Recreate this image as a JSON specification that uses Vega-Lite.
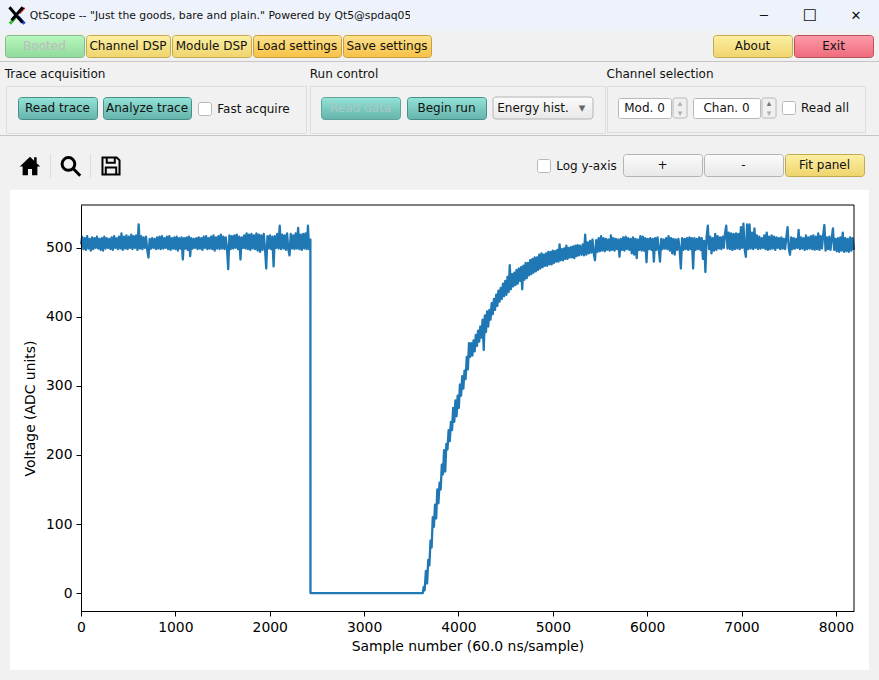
{
"$schema":"https://vega.github.io/schema/vega-lite/v6.json",
"padding":0,
"background":"#f1f1f1",
"datasets":{
"blank":[{"label":""}],
"trace":[
{"n":0,"v":505},{"n":13,"v":516},{"n":26,"v":498},{"n":39,"v":514},{"n":52,"v":497},{"n":65,"v":517},{"n":78,"v":499},{"n":91,"v":513},{"n":104,"v":496},{"n":117,"v":515},{"n":130,"v":498},{"n":143,"v":514},{"n":156,"v":500},{"n":169,"v":516},{"n":182,"v":499},{"n":195,"v":513},{"n":208,"v":497},{"n":221,"v":514},{"n":234,"v":496},{"n":247,"v":516},{"n":260,"v":499},{"n":273,"v":514},{"n":286,"v":500},{"n":299,"v":513},{"n":312,"v":498},{"n":325,"v":515},{"n":338,"v":497},{"n":351,"v":517},{"n":364,"v":500},{"n":377,"v":514},{"n":390,"v":498},{"n":403,"v":516},{"n":416,"v":499},{"n":429,"v":521},{"n":442,"v":497},{"n":455,"v":516},{"n":468,"v":499},{"n":481,"v":518},{"n":494,"v":498},{"n":507,"v":516},{"n":520,"v":500},{"n":533,"v":519},{"n":546,"v":498},{"n":559,"v":517},{"n":572,"v":500},{"n":585,"v":518},{"n":598,"v":497},{"n":611,"v":534},{"n":624,"v":499},{"n":637,"v":517},{"n":650,"v":498},{"n":663,"v":515},{"n":676,"v":500},{"n":689,"v":516},{"n":702,"v":497},{"n":715,"v":486},{"n":728,"v":513},{"n":741,"v":499},{"n":754,"v":514},{"n":767,"v":500},{"n":780,"v":513},{"n":793,"v":498},{"n":806,"v":515},{"n":819,"v":499},{"n":832,"v":516},{"n":845,"v":498},{"n":858,"v":517},{"n":871,"v":499},{"n":884,"v":514},{"n":897,"v":500},{"n":910,"v":516},{"n":923,"v":498},{"n":936,"v":517},{"n":949,"v":497},{"n":962,"v":514},{"n":975,"v":499},{"n":988,"v":515},{"n":1001,"v":498},{"n":1014,"v":516},{"n":1027,"v":496},{"n":1040,"v":514},{"n":1053,"v":499},{"n":1066,"v":515},{"n":1079,"v":483},{"n":1092,"v":514},{"n":1105,"v":499},{"n":1118,"v":515},{"n":1131,"v":497},{"n":1144,"v":516},{"n":1157,"v":488},{"n":1170,"v":514},{"n":1183,"v":499},{"n":1196,"v":513},{"n":1209,"v":500},{"n":1222,"v":514},{"n":1235,"v":498},{"n":1248,"v":515},{"n":1261,"v":499},{"n":1274,"v":514},{"n":1287,"v":497},{"n":1300,"v":516},{"n":1313,"v":500},{"n":1326,"v":517},{"n":1339,"v":498},{"n":1352,"v":514},{"n":1365,"v":499},{"n":1378,"v":516},{"n":1391,"v":498},{"n":1404,"v":518},{"n":1417,"v":496},{"n":1430,"v":515},{"n":1443,"v":499},{"n":1456,"v":517},{"n":1469,"v":498},{"n":1482,"v":519},{"n":1495,"v":499},{"n":1508,"v":516},{"n":1521,"v":498},{"n":1534,"v":515},{"n":1547,"v":500},{"n":1560,"v":469},{"n":1573,"v":518},{"n":1586,"v":498},{"n":1599,"v":517},{"n":1612,"v":499},{"n":1625,"v":518},{"n":1638,"v":500},{"n":1651,"v":519},{"n":1664,"v":498},{"n":1677,"v":516},{"n":1690,"v":483},{"n":1703,"v":515},{"n":1716,"v":500},{"n":1729,"v":518},{"n":1742,"v":499},{"n":1755,"v":521},{"n":1768,"v":498},{"n":1781,"v":519},{"n":1794,"v":497},{"n":1807,"v":520},{"n":1820,"v":499},{"n":1833,"v":518},{"n":1846,"v":498},{"n":1859,"v":521},{"n":1872,"v":496},{"n":1885,"v":519},{"n":1898,"v":494},{"n":1911,"v":518},{"n":1924,"v":497},{"n":1937,"v":520},{"n":1950,"v":499},{"n":1963,"v":470},{"n":1976,"v":517},{"n":1989,"v":499},{"n":2002,"v":518},{"n":2015,"v":498},{"n":2028,"v":516},{"n":2041,"v":473},{"n":2054,"v":517},{"n":2067,"v":500},{"n":2080,"v":520},{"n":2093,"v":499},{"n":2106,"v":532},{"n":2119,"v":498},{"n":2132,"v":519},{"n":2145,"v":499},{"n":2158,"v":518},{"n":2171,"v":497},{"n":2184,"v":521},{"n":2197,"v":498},{"n":2210,"v":489},{"n":2223,"v":520},{"n":2236,"v":499},{"n":2249,"v":518},{"n":2262,"v":498},{"n":2275,"v":521},{"n":2288,"v":499},{"n":2301,"v":529},{"n":2314,"v":498},{"n":2327,"v":519},{"n":2340,"v":497},{"n":2353,"v":520},{"n":2366,"v":499},{"n":2379,"v":521},{"n":2392,"v":498},{"n":2405,"v":532},{"n":2418,"v":498},{"n":2431,"v":512},{"n":2432,"v":0},
{"n":3622,"v":0},{"n":3632,"v":9},{"n":3642,"v":4},{"n":3655,"v":32},{"n":3668,"v":14},{"n":3680,"v":48},{"n":3692,"v":40},{"n":3704,"v":76},{"n":3716,"v":66},{"n":3728,"v":110},{"n":3740,"v":96},{"n":3752,"v":128},{"n":3764,"v":108},{"n":3776,"v":150},{"n":3788,"v":130},{"n":3800,"v":160},{"n":3812,"v":150},{"n":3824,"v":186},{"n":3836,"v":172},{"n":3848,"v":207},{"n":3860,"v":176},{"n":3872,"v":216},{"n":3884,"v":208},{"n":3896,"v":236},{"n":3908,"v":220},{"n":3920,"v":248},{"n":3932,"v":236},{"n":3944,"v":268},{"n":3956,"v":248},{"n":3968,"v":279},{"n":3980,"v":256},{"n":3992,"v":286},{"n":4004,"v":268},{"n":4016,"v":302},{"n":4028,"v":286},{"n":4040,"v":314},{"n":4052,"v":296},{"n":4064,"v":322},{"n":4076,"v":310},{"n":4088,"v":342},{"n":4100,"v":324},{"n":4112,"v":362},{"n":4124,"v":342},{"n":4136,"v":362},{"n":4148,"v":344},{"n":4160,"v":366},{"n":4172,"v":350},{"n":4184,"v":374},{"n":4196,"v":358},{"n":4208,"v":380},{"n":4220,"v":364},{"n":4232,"v":386},{"n":4244,"v":370},{"n":4256,"v":396},{"n":4268,"v":352},{"n":4280,"v":402},{"n":4292,"v":378},{"n":4304,"v":408},{"n":4316,"v":386},{"n":4328,"v":410},{"n":4340,"v":396},{"n":4352,"v":420},{"n":4364,"v":404},{"n":4376,"v":426},{"n":4388,"v":410},{"n":4400,"v":432},{"n":4412,"v":416},{"n":4424,"v":438},{"n":4436,"v":422},{"n":4448,"v":442},{"n":4460,"v":426},{"n":4472,"v":448},{"n":4484,"v":430},{"n":4496,"v":452},{"n":4508,"v":432},{"n":4520,"v":458},{"n":4532,"v":436},{"n":4544,"v":475},{"n":4556,"v":440},{"n":4568,"v":462},{"n":4580,"v":444},{"n":4592,"v":464},{"n":4604,"v":446},{"n":4616,"v":468},{"n":4628,"v":448},{"n":4640,"v":470},{"n":4652,"v":452},{"n":4664,"v":472},{"n":4676,"v":440},{"n":4688,"v":474},{"n":4700,"v":454},{"n":4712,"v":478},{"n":4724,"v":456},{"n":4736,"v":478},{"n":4748,"v":460},{"n":4760,"v":482},{"n":4772,"v":462},{"n":4784,"v":484},{"n":4796,"v":464},{"n":4808,"v":486},{"n":4820,"v":466},{"n":4832,"v":486},{"n":4844,"v":468},{"n":4856,"v":490},{"n":4868,"v":470},{"n":4880,"v":492},{"n":4892,"v":472},{"n":4904,"v":490},{"n":4916,"v":474},{"n":4928,"v":492},{"n":4940,"v":474},{"n":4952,"v":494},{"n":4964,"v":476},{"n":4976,"v":494},{"n":4988,"v":476},{"n":5000,"v":496},{"n":5012,"v":478},{"n":5024,"v":495},{"n":5036,"v":480},{"n":5048,"v":497},{"n":5060,"v":480},{"n":5072,"v":505},{"n":5084,"v":482},{"n":5096,"v":498},{"n":5108,"v":482},{"n":5120,"v":499},{"n":5132,"v":484},{"n":5144,"v":503},{"n":5156,"v":484},{"n":5168,"v":500},{"n":5180,"v":486},{"n":5192,"v":501},{"n":5204,"v":486},{"n":5216,"v":502},{"n":5228,"v":485},{"n":5240,"v":503},{"n":5252,"v":488},{"n":5264,"v":504},{"n":5276,"v":489},{"n":5288,"v":503},{"n":5304,"v":490},{"n":5317,"v":505},{"n":5330,"v":489},{"n":5343,"v":519},{"n":5356,"v":490},{"n":5369,"v":508},{"n":5382,"v":492},{"n":5395,"v":510},{"n":5408,"v":493},{"n":5421,"v":512},{"n":5434,"v":492},{"n":5447,"v":482},{"n":5460,"v":511},{"n":5473,"v":494},{"n":5486,"v":514},{"n":5499,"v":495},{"n":5512,"v":517},{"n":5525,"v":496},{"n":5538,"v":514},{"n":5551,"v":495},{"n":5564,"v":513},{"n":5577,"v":497},{"n":5590,"v":512},{"n":5603,"v":496},{"n":5616,"v":518},{"n":5629,"v":497},{"n":5642,"v":514},{"n":5655,"v":496},{"n":5668,"v":513},{"n":5681,"v":498},{"n":5694,"v":512},{"n":5707,"v":487},{"n":5720,"v":513},{"n":5733,"v":497},{"n":5746,"v":515},{"n":5759,"v":496},{"n":5772,"v":516},{"n":5785,"v":498},{"n":5798,"v":514},{"n":5811,"v":497},{"n":5824,"v":513},{"n":5837,"v":492},{"n":5850,"v":515},{"n":5863,"v":490},{"n":5876,"v":513},{"n":5889,"v":485},{"n":5902,"v":512},{"n":5915,"v":497},{"n":5928,"v":517},{"n":5941,"v":496},{"n":5954,"v":516},{"n":5967,"v":496},{"n":5980,"v":514},{"n":5993,"v":479},{"n":6006,"v":513},{"n":6019,"v":498},{"n":6032,"v":514},{"n":6045,"v":497},{"n":6058,"v":513},{"n":6071,"v":480},{"n":6084,"v":514},{"n":6097,"v":497},{"n":6110,"v":515},{"n":6123,"v":498},{"n":6136,"v":480},{"n":6149,"v":513},{"n":6162,"v":498},{"n":6175,"v":512},{"n":6188,"v":499},{"n":6201,"v":514},{"n":6214,"v":498},{"n":6227,"v":517},{"n":6240,"v":496},{"n":6253,"v":514},{"n":6266,"v":492},{"n":6279,"v":513},{"n":6292,"v":490},{"n":6305,"v":512},{"n":6318,"v":497},{"n":6331,"v":513},{"n":6344,"v":498},{"n":6357,"v":470},{"n":6370,"v":514},{"n":6383,"v":497},{"n":6396,"v":513},{"n":6409,"v":498},{"n":6422,"v":514},{"n":6435,"v":497},{"n":6448,"v":515},{"n":6461,"v":498},{"n":6474,"v":514},{"n":6487,"v":470},{"n":6500,"v":514},{"n":6513,"v":497},{"n":6526,"v":513},{"n":6539,"v":498},{"n":6552,"v":515},{"n":6565,"v":497},{"n":6578,"v":514},{"n":6591,"v":484},{"n":6604,"v":510},{"n":6617,"v":465},{"n":6630,"v":516},{"n":6643,"v":532},{"n":6656,"v":498},{"n":6669,"v":516},{"n":6682,"v":492},{"n":6695,"v":514},{"n":6708,"v":496},{"n":6721,"v":520},{"n":6734,"v":497},{"n":6747,"v":517},{"n":6760,"v":499},{"n":6773,"v":515},{"n":6786,"v":498},{"n":6799,"v":516},{"n":6812,"v":500},{"n":6825,"v":521},{"n":6838,"v":532},{"n":6851,"v":499},{"n":6864,"v":522},{"n":6877,"v":498},{"n":6890,"v":521},{"n":6903,"v":497},{"n":6916,"v":520},{"n":6929,"v":498},{"n":6942,"v":521},{"n":6955,"v":499},{"n":6968,"v":520},{"n":6981,"v":498},{"n":6994,"v":530},{"n":7007,"v":500},{"n":7020,"v":535},{"n":7033,"v":498},{"n":7046,"v":487},{"n":7059,"v":534},{"n":7072,"v":498},{"n":7085,"v":534},{"n":7098,"v":499},{"n":7111,"v":522},{"n":7124,"v":498},{"n":7137,"v":528},{"n":7150,"v":500},{"n":7163,"v":518},{"n":7176,"v":498},{"n":7189,"v":516},{"n":7202,"v":499},{"n":7215,"v":514},{"n":7228,"v":500},{"n":7241,"v":518},{"n":7254,"v":498},{"n":7267,"v":522},{"n":7280,"v":497},{"n":7293,"v":516},{"n":7306,"v":498},{"n":7319,"v":518},{"n":7332,"v":499},{"n":7345,"v":516},{"n":7358,"v":497},{"n":7371,"v":515},{"n":7384,"v":500},{"n":7397,"v":514},{"n":7410,"v":498},{"n":7423,"v":515},{"n":7436,"v":499},{"n":7449,"v":513},{"n":7462,"v":498},{"n":7475,"v":515},{"n":7488,"v":530},{"n":7501,"v":499},{"n":7514,"v":490},{"n":7527,"v":515},{"n":7540,"v":498},{"n":7553,"v":514},{"n":7566,"v":499},{"n":7579,"v":513},{"n":7592,"v":500},{"n":7605,"v":526},{"n":7618,"v":498},{"n":7631,"v":515},{"n":7644,"v":499},{"n":7657,"v":514},{"n":7670,"v":497},{"n":7683,"v":518},{"n":7696,"v":498},{"n":7709,"v":515},{"n":7722,"v":499},{"n":7735,"v":517},{"n":7748,"v":498},{"n":7761,"v":518},{"n":7774,"v":497},{"n":7787,"v":516},{"n":7800,"v":498},{"n":7813,"v":521},{"n":7826,"v":497},{"n":7839,"v":517},{"n":7852,"v":499},{"n":7865,"v":518},{"n":7878,"v":533},{"n":7891,"v":496},{"n":7904,"v":515},{"n":7917,"v":498},{"n":7930,"v":516},{"n":7943,"v":497},{"n":7956,"v":514},{"n":7969,"v":528},{"n":7982,"v":497},{"n":7995,"v":513},{"n":8008,"v":495},{"n":8021,"v":514},{"n":8034,"v":494},{"n":8047,"v":515},{"n":8060,"v":496},{"n":8073,"v":522},{"n":8086,"v":494},{"n":8099,"v":514},{"n":8112,"v":495},{"n":8125,"v":513},{"n":8138,"v":494},{"n":8151,"v":515},{"n":8164,"v":496},{"n":8177,"v":514},{"n":8191,"v":497}
]
},
"vconcat":[
{"hconcat":[
 {"width":31,"height":31,"data":{"name":"blank"},"layer":[
  {"mark":{"type":"rect","opacity":1,"fill":"#eef3fb"}},
  {"mark":{"type":"point","clip":true,"filled":false,"opacity":1,"strokeWidth":3,"color":"#35c035","size":300,"shape":"M-0.65,0.95 L0.12,0.05"}},
  {"mark":{"type":"point","clip":true,"filled":false,"opacity":1,"strokeWidth":3,"color":"#2040e0","size":300,"shape":"M1.05,0.95 L0.25,0.1"}},
  {"mark":{"type":"point","clip":true,"filled":false,"opacity":1,"strokeWidth":2,"color":"#e02020","size":300,"shape":"M1.05,-0.9 L0.45,-0.25"}},
  {"mark":{"type":"point","clip":true,"filled":false,"opacity":1,"strokeWidth":3,"color":"#000000","size":300,"shape":"M-0.7,-0.95 L0.8,0.8 M0.85,-0.95 L-0.45,0.55"}}
 ]},
 {"width":379,"height":31,"view":{"style":"titlebar"},"data":{"values":[{"label":"QtScope -- \"Just the goods, bare and plain.\" Powered by Qt5@spdaq05"}]},"mark":{"type":"text","fontSize":10.8},"encoding":{"text":{"field":"label"}}},
 {"width":331,"height":31,"view":{"style":"titlebar"},"data":{"name":"blank"},"mark":"rect"},
 {"width":46,"height":31,"view":{"style":"titlebar"},"data":{"values":[{"label":"─"}]},"mark":{"type":"text","fontSize":13},"encoding":{"text":{"field":"label"}}},
 {"width":46,"height":31,"view":{"style":"titlebar"},"data":{"values":[{"label":"☐"}]},"mark":{"type":"text","fontSize":16},"encoding":{"text":{"field":"label"}}},
 {"width":46,"height":31,"view":{"style":"titlebar"},"data":{"values":[{"label":"✕"}]},"mark":{"type":"text","fontSize":13},"encoding":{"text":{"field":"label"}}}
],"bounds":"flush"},
{"height":3,"width":1,"data":{"name":"blank"},"mark":"rect"},
{"hconcat":[
 {"width":4,"height":24,"data":{"name":"blank"},"mark":"rect"},
 {"width":79,"height":22,"view":{"style":"green"},"data":{"values":[{"label":"Booted"}]},"mark":{"type":"text","color":"#bcbcbc"},"encoding":{"text":{"field":"label"}}},
 {"width":84,"height":22,"view":{"style":"yellow"},"data":{"values":[{"label":"Channel DSP"}]},"mark":"text","encoding":{"text":{"field":"label"}}},
 {"width":79,"height":22,"view":{"style":"yellow"},"data":{"values":[{"label":"Module DSP"}]},"mark":"text","encoding":{"text":{"field":"label"}}},
 {"width":88,"height":22,"view":{"style":"orange"},"data":{"values":[{"label":"Load settings"}]},"mark":"text","encoding":{"text":{"field":"label"}}},
 {"width":88,"height":22,"view":{"style":"orange"},"data":{"values":[{"label":"Save settings"}]},"mark":"text","encoding":{"text":{"field":"label"}}},
 {"width":280,"height":24,"data":{"name":"blank"},"mark":"rect"},
 {"width":79,"height":22,"view":{"style":"yellow"},"data":{"values":[{"label":"About"}]},"mark":"text","encoding":{"text":{"field":"label"}}},
 {"width":79,"height":22,"view":{"style":"red"},"data":{"values":[{"label":"Exit"}]},"mark":"text","encoding":{"text":{"field":"label"}}}
]},
{"height":2,"width":1,"data":{"name":"blank"},"mark":"rect"},
{"height":1,"width":879,"view":{"style":"rule"},"data":{"name":"blank"},"mark":"rect"},
{"hconcat":[
 {"width":5,"height":24,"data":{"name":"blank"},"mark":"rect"},
 {"width":100,"height":24,"data":{"values":[{"label":"Trace acquisition"}]},"mark":"text","encoding":{"text":{"field":"label"}}},
 {"width":204,"height":24,"data":{"name":"blank"},"mark":"rect"},
 {"width":70,"height":24,"data":{"values":[{"label":"Run control"}]},"mark":"text","encoding":{"text":{"field":"label"}}},
 {"width":228,"height":24,"data":{"name":"blank"},"mark":"rect"},
 {"width":106,"height":24,"data":{"values":[{"label":"Channel selection"}]},"mark":"text","encoding":{"text":{"field":"label"}}}
],"bounds":"flush"},
{"hconcat":[
 {"width":6,"height":47,"data":{"name":"blank"},"mark":"rect"},
 {"width":1,"height":47,"view":{"style":"frame"},"data":{"name":"blank"},"mark":"rect"},
 {"vconcat":[
  {"width":299,"height":1,"view":{"style":"frame"},"data":{"name":"blank"},"mark":"rect"},
  {"width":1,"height":9,"data":{"name":"blank"},"mark":"rect"},
  {"hconcat":[
   {"width":10,"height":24,"data":{"name":"blank"},"mark":"rect"},
   {"width":79,"height":22,"view":{"style":"teal"},"data":{"values":[{"label":"Read trace"}]},"mark":"text","encoding":{"text":{"field":"label"}}},
   {"width":4,"height":24,"data":{"name":"blank"},"mark":"rect"},
   {"width":88,"height":22,"view":{"style":"teal"},"data":{"values":[{"label":"Analyze trace"}]},"mark":"text","encoding":{"text":{"field":"label"}}},
   {"width":5,"height":24,"data":{"name":"blank"},"mark":"rect"},
   {"vconcat":[
    {"width":1,"height":4,"data":{"name":"blank"},"mark":"rect"},
    {"width":13,"height":13,"view":{"style":"box"},"data":{"name":"blank"},"mark":"rect"}
   ]},
   {"width":5,"height":24,"data":{"name":"blank"},"mark":"rect"},
   {"width":73,"height":24,"data":{"values":[{"label":"Fast acquire"}]},"mark":"text","encoding":{"text":{"field":"label"}}}
  ]},
  {"width":1,"height":12,"data":{"name":"blank"},"mark":"rect"},
  {"width":299,"height":1,"view":{"style":"frame"},"data":{"name":"blank"},"mark":"rect"}
 ]},
 {"width":1,"height":47,"view":{"style":"frame"},"data":{"name":"blank"},"mark":"rect"},
 {"width":3,"height":47,"data":{"name":"blank"},"mark":"rect"},
 {"width":1,"height":47,"view":{"style":"frame"},"data":{"name":"blank"},"mark":"rect"},
 {"vconcat":[
  {"width":294,"height":1,"view":{"style":"frame"},"data":{"name":"blank"},"mark":"rect"},
  {"width":1,"height":9,"data":{"name":"blank"},"mark":"rect"},
  {"hconcat":[
   {"width":9,"height":24,"data":{"name":"blank"},"mark":"rect"},
   {"width":79,"height":22,"view":{"style":"tealOff"},"data":{"values":[{"label":"Read data"}]},"mark":{"type":"text","color":"#a8c8c4"},"encoding":{"text":{"field":"label"}}},
   {"width":5,"height":24,"data":{"name":"blank"},"mark":"rect"},
   {"width":79,"height":22,"view":{"style":"teal"},"data":{"values":[{"label":"Begin run"}]},"mark":"text","encoding":{"text":{"field":"label"}}},
   {"width":5,"height":24,"data":{"name":"blank"},"mark":"rect"},
   {"width":100,"height":22,"data":{"values":[{"label":"Energy hist.","arrow":"▾"}]},"layer":[
    {"mark":{"type":"rect","opacity":1,"cornerRadius":3,"fill":{"gradient":"linear","x1":0,"y1":0,"x2":0,"y2":1,"stops":[{"offset":0,"color":"#fbfbfb"},{"offset":1,"color":"#e8e8e8"}]},"stroke":"#b4b4b4"}},
    {"mark":{"type":"text","dx":-10},"encoding":{"text":{"field":"label"}}},
    {"mark":{"type":"text","dx":39,"fontSize":13,"color":"#666666"},"encoding":{"text":{"field":"arrow"}}}
   ]}
  ]},
  {"width":1,"height":12,"data":{"name":"blank"},"mark":"rect"},
  {"width":294,"height":1,"view":{"style":"frame"},"data":{"name":"blank"},"mark":"rect"}
 ]},
 {"width":1,"height":47,"view":{"style":"frame"},"data":{"name":"blank"},"mark":"rect"},
 {"width":1,"height":47,"data":{"name":"blank"},"mark":"rect"},
 {"width":1,"height":47,"view":{"style":"frame"},"data":{"name":"blank"},"mark":"rect"},
 {"vconcat":[
  {"width":257,"height":1,"view":{"style":"frame"},"data":{"name":"blank"},"mark":"rect"},
  {"width":1,"height":9,"data":{"name":"blank"},"mark":"rect"},
  {"hconcat":[
   {"width":9,"height":24,"data":{"name":"blank"},"mark":"rect"},
   {"vconcat":[
    {"width":1,"height":1,"data":{"name":"blank"},"mark":"rect"},
    {"hconcat":[
     {"width":53,"height":20,"view":{"style":"box"},"data":{"values":[{"label":"Mod. 0"}]},"mark":"text","encoding":{"text":{"field":"label"}}},
     {"width":14,"height":20,"data":{"values":[{"up":"▴","down":"▾"}]},"layer":[
      {"mark":{"type":"rect","opacity":1,"cornerRadius":2,"fill":"#f0f0f0","stroke":"#b8b8b8"}},
      {"mark":{"type":"text","dy":-5,"fontSize":9,"color":"#b0b0b0"},"encoding":{"text":{"field":"up"}}},
      {"mark":{"type":"text","dy":5,"fontSize":9,"color":"#b0b0b0"},"encoding":{"text":{"field":"down"}}}
     ]}
    ]}
   ]},
   {"width":4,"height":24,"data":{"name":"blank"},"mark":"rect"},
   {"vconcat":[
    {"width":1,"height":1,"data":{"name":"blank"},"mark":"rect"},
    {"hconcat":[
     {"width":67,"height":20,"view":{"style":"box"},"data":{"values":[{"label":"Chan. 0"}]},"mark":"text","encoding":{"text":{"field":"label"}}},
     {"width":14,"height":20,"data":{"values":[{"up":"▴","down":"▾"}]},"layer":[
      {"mark":{"type":"rect","opacity":1,"cornerRadius":2,"fill":"#f0f0f0","stroke":"#b8b8b8"}},
      {"mark":{"type":"text","dy":-5,"fontSize":9,"color":"#777777"},"encoding":{"text":{"field":"up"}}},
      {"mark":{"type":"text","dy":5,"fontSize":9,"color":"#b0b0b0"},"encoding":{"text":{"field":"down"}}}
     ]}
    ]}
   ]},
   {"width":4,"height":24,"data":{"name":"blank"},"mark":"rect"},
   {"vconcat":[
    {"width":1,"height":4,"data":{"name":"blank"},"mark":"rect"},
    {"width":13,"height":13,"view":{"style":"box"},"data":{"name":"blank"},"mark":"rect"}
   ]},
   {"width":5,"height":24,"data":{"name":"blank"},"mark":"rect"},
   {"width":46,"height":24,"data":{"values":[{"label":"Read all"}]},"mark":"text","encoding":{"text":{"field":"label"}}}
  ]},
  {"width":1,"height":12,"data":{"name":"blank"},"mark":"rect"},
  {"width":257,"height":1,"view":{"style":"frame"},"data":{"name":"blank"},"mark":"rect"}
 ]},
 {"width":1,"height":47,"view":{"style":"frame"},"data":{"name":"blank"},"mark":"rect"}
]},
{"height":1,"width":1,"data":{"name":"blank"},"mark":"rect"},
{"height":1,"width":879,"view":{"style":"rule"},"data":{"name":"blank"},"mark":"rect"},
{"height":17,"width":1,"data":{"name":"blank"},"mark":"rect"},
{"hconcat":[
 {"width":10,"height":24,"data":{"name":"blank"},"mark":"rect"},
 {"width":40,"height":24,"data":{"name":"blank"},"mark":{"type":"point","clip":true,"filled":true,"color":"#000000","opacity":1,"size":420,"shape":"M0,-0.9 L0.4,-0.52 L0.4,-0.85 L0.65,-0.85 L0.65,-0.28 L1,0.05 L0.72,0.05 L0.72,0.9 L0.2,0.9 L0.2,0.3 L-0.2,0.3 L-0.2,0.9 L-0.72,0.9 L-0.72,0.05 L-1,0.05 Z"}},
 {"width":1,"height":24,"view":{"style":"frame"},"data":{"name":"blank"},"mark":"rect"},
 {"width":39,"height":24,"data":{"name":"blank"},"mark":{"type":"point","clip":true,"filled":false,"color":"#000000","opacity":1,"strokeWidth":3,"size":420,"shape":"M0.42,-0.2 A0.62,0.62 0 1 1 -0.82,-0.2 A0.62,0.62 0 1 1 0.42,-0.2 M0.25,0.25 L0.95,0.95"}},
 {"width":1,"height":24,"view":{"style":"frame"},"data":{"name":"blank"},"mark":"rect"},
 {"width":40,"height":24,"data":{"name":"blank"},"mark":{"type":"point","clip":true,"filled":false,"color":"#000000","opacity":1,"strokeWidth":2,"size":360,"shape":"M-0.9,-0.9 L0.6,-0.9 L0.9,-0.6 L0.9,0.9 L-0.9,0.9 Z M-0.45,-0.9 L-0.45,-0.35 L0.4,-0.35 L0.4,-0.9 M-0.55,0.9 L-0.55,0.15 L0.55,0.15 L0.55,0.9"}},
 {"width":405,"height":24,"data":{"name":"blank"},"mark":"rect"},
 {"vconcat":[
  {"width":1,"height":4,"data":{"name":"blank"},"mark":"rect"},
  {"width":13,"height":13,"view":{"style":"box"},"data":{"name":"blank"},"mark":"rect"}
 ]},
 {"width":5,"height":24,"data":{"name":"blank"},"mark":"rect"},
 {"width":61,"height":24,"data":{"values":[{"label":"Log y-axis"}]},"mark":"text","encoding":{"text":{"field":"label"}}},
 {"width":5,"height":24,"data":{"name":"blank"},"mark":"rect"},
 {"width":79,"height":22,"view":{"style":"gray"},"data":{"values":[{"label":"+"}]},"mark":"text","encoding":{"text":{"field":"label"}}},
 {"width":79,"height":22,"view":{"style":"gray"},"data":{"values":[{"label":"-"}]},"mark":"text","encoding":{"text":{"field":"label"}}},
 {"width":79,"height":22,"view":{"style":"yellow"},"data":{"values":[{"label":"Fit panel"}]},"mark":"text","encoding":{"text":{"field":"label"}}}
]},
{"height":11,"width":1,"data":{"name":"blank"},"mark":"rect"},
{"hconcat":[
 {"width":10,"height":480,"data":{"name":"blank"},"mark":"rect"},
 {"width":859,"height":480,
  "layer":[
   {"data":{"values":[{"n":-752,"n2":8351,"v":-111,"v2":584}]},
    "mark":{"type":"rect","opacity":1,"color":"#ffffff"},
    "encoding":{
     "x":{"field":"n","type":"quantitative","scale":{"domain":[0,8192],"range":[71,844],"nice":false,"zero":false},
      "axis":{"orient":"bottom","offset":-59,"zindex":1,"title":"Sample number (60.0 ns/sample)","values":[0,1000,2000,3000,4000,5000,6000,7000,8000],"format":"d","titlePadding":6,"labelFlush":false}},
     "x2":{"field":"n2"},
     "y":{"field":"v","type":"quantitative","scale":{"domain":[-26,562],"range":[421,15],"nice":false,"zero":false},
      "axis":{"orient":"left","offset":-71,"zindex":1,"title":"Voltage (ADC units)","values":[0,100,200,300,400,500],"format":"d","titlePadding":8,"labelFlush":false}},
     "y2":{"field":"v2"}
    }},
   {"data":{"name":"trace"},
    "mark":{"type":"line","color":"#1f77b4","strokeWidth":2.3,"strokeJoin":"round"},
    "encoding":{"x":{"field":"n","type":"quantitative"},"y":{"field":"v","type":"quantitative"}}},
   {"data":{"values":[{"n":0,"v":562,"n2":8192}]},
    "mark":{"type":"rule","color":"#000000"},
    "encoding":{"x":{"field":"n","type":"quantitative"},"x2":{"field":"n2"},"y":{"field":"v","type":"quantitative"}}},
   {"data":{"values":[{"n":8192,"v":-26,"v2":562}]},
    "mark":{"type":"rule","color":"#000000"},
    "encoding":{"x":{"field":"n","type":"quantitative"},"y":{"field":"v","type":"quantitative"},"y2":{"field":"v2"}}}
  ]
 }
]},
{"height":10,"width":1,"data":{"name":"blank"},"mark":"rect"}
],
"config":{
 "concat":{"spacing":0},
 "view":{"stroke":null},
 "rect":{"opacity":0},
 "text":{"font":"DejaVu Sans","fontSize":12,"color":"#111111"},
 "axis":{"grid":false,"domainColor":"#000000","domainWidth":1,"tickColor":"#000000","tickSize":5,"tickWidth":1,"labelColor":"#000000","labelFont":"DejaVu Sans","labelFontSize":13.9,"labelPadding":4,"titleColor":"#000000","titleFont":"DejaVu Sans","titleFontSize":13.9,"titleFontWeight":"normal"},
 "style":{
  "titlebar":{"fill":"#eef3fb"},
  "rule":{"fill":"#c6c6c6"},
  "frame":{"fill":"#dddddd"},
  "box":{"fill":"#ffffff","stroke":"#b8b8b8","cornerRadius":2},
  "green":{"fill":{"gradient":"linear","x1":0,"y1":0,"x2":0,"y2":1,"stops":[{"offset":0,"color":"#b8f7bd"},{"offset":1,"color":"#90da9c"}]},"stroke":"#86b98e","cornerRadius":3},
  "yellow":{"fill":{"gradient":"linear","x1":0,"y1":0,"x2":0,"y2":1,"stops":[{"offset":0,"color":"#fcf0a4"},{"offset":1,"color":"#efd46c"}]},"stroke":"#c2aa4e","cornerRadius":3},
  "orange":{"fill":{"gradient":"linear","x1":0,"y1":0,"x2":0,"y2":1,"stops":[{"offset":0,"color":"#fde28e"},{"offset":1,"color":"#f7c144"}]},"stroke":"#c99e3c","cornerRadius":3},
  "red":{"fill":{"gradient":"linear","x1":0,"y1":0,"x2":0,"y2":1,"stops":[{"offset":0,"color":"#fe9ca8"},{"offset":1,"color":"#ee6a7c"}]},"stroke":"#b8505e","cornerRadius":3},
  "teal":{"fill":{"gradient":"linear","x1":0,"y1":0,"x2":0,"y2":1,"stops":[{"offset":0,"color":"#93e3d7"},{"offset":1,"color":"#65b3ab"}]},"stroke":"#47908a","cornerRadius":3},
  "tealOff":{"fill":{"gradient":"linear","x1":0,"y1":0,"x2":0,"y2":1,"stops":[{"offset":0,"color":"#93e3d7"},{"offset":1,"color":"#65b3ab"}]},"stroke":"#5ea39c","cornerRadius":3},
  "gray":{"fill":{"gradient":"linear","x1":0,"y1":0,"x2":0,"y2":1,"stops":[{"offset":0,"color":"#fbfbfb"},{"offset":1,"color":"#e8e8e8"}]},"stroke":"#b4b4b4","cornerRadius":3}
 }
}
}
